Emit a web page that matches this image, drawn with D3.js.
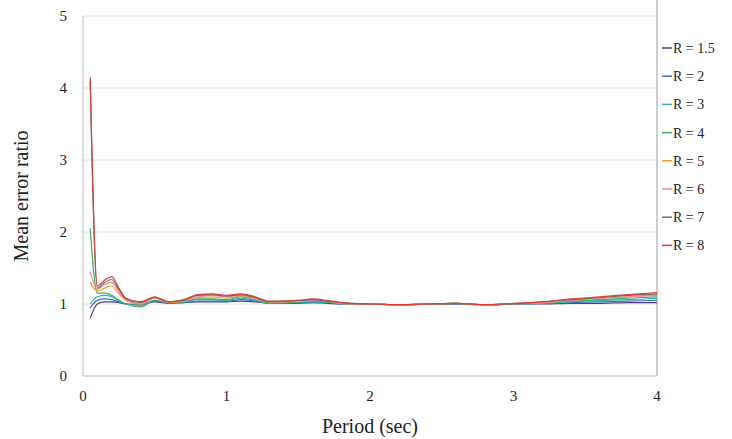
<!DOCTYPE html>
<html>
<head>
<meta charset="utf-8">
<script src="https://cdn.jsdelivr.net/npm/d3@7"></script>
<style>
  body { margin: 0; background: #fff; }
  text { font-family: "Liberation Serif", "Times New Roman", serif; fill: #222; }
</style>
</head>
<body>
<div id="chart"></div>
<script>
// period axis (sec)
const periods = [0.05, 0.1, 0.15, 0.2, 0.25, 0.3, 0.4, 0.5, 0.6, 0.7, 0.8, 0.9, 1.0, 1.1, 1.2, 1.3,
  1.4, 1.5, 1.6, 1.7, 1.8, 2.0, 2.2, 2.4, 2.6, 2.8, 3.0, 3.2, 3.4, 3.6, 3.8, 4.0];

const r15 = [0.80, 1.00, 1.03, 1.03, 1.02, 1.00, 0.99, 1.03, 1.01, 1.02, 1.03, 1.03, 1.03, 1.04, 1.03, 1.01,
  1.01, 1.01, 1.02, 1.01, 1.00, 1.00, 0.99, 1.00, 1.00, 0.99, 1.00, 1.00, 1.01, 1.01, 1.02, 1.02];
const r2 = [0.95, 1.05, 1.07, 1.06, 1.03, 1.00, 0.99, 1.04, 1.02, 1.02, 1.04, 1.04, 1.04, 1.06, 1.04, 1.01,
  1.01, 1.02, 1.02, 1.02, 1.00, 1.00, 0.99, 1.00, 1.00, 0.99, 1.00, 1.01, 1.02, 1.03, 1.04, 1.05];
const r3 = [1.00, 1.10, 1.12, 1.10, 1.05, 1.00, 0.98, 1.05, 1.02, 1.03, 1.06, 1.06, 1.05, 1.08, 1.05, 1.01,
  1.02, 1.02, 1.03, 1.03, 1.00, 1.00, 0.99, 1.00, 1.01, 0.99, 1.00, 1.01, 1.03, 1.05, 1.06, 1.08];
const r4 = [2.05, 1.15, 1.15, 1.12, 1.05, 1.00, 0.96, 1.05, 1.02, 1.03, 1.07, 1.07, 1.06, 1.10, 1.06, 1.02,
  1.02, 1.03, 1.04, 1.03, 1.01, 1.00, 0.99, 1.00, 1.01, 0.99, 1.00, 1.02, 1.04, 1.06, 1.08, 1.10];
const r5 = [1.30, 1.18, 1.22, 1.25, 1.14, 1.05, 1.00, 1.08, 1.02, 1.04, 1.09, 1.10, 1.08, 1.11, 1.07, 1.03,
  1.03, 1.04, 1.05, 1.04, 1.01, 1.00, 0.99, 1.00, 1.01, 0.99, 1.00, 1.02, 1.05, 1.08, 1.10, 1.13];
const r6 = [1.45, 1.20, 1.27, 1.30, 1.17, 1.06, 1.00, 1.08, 1.03, 1.04, 1.10, 1.12, 1.10, 1.12, 1.08, 1.03,
  1.03, 1.04, 1.05, 1.04, 1.01, 1.00, 0.99, 1.00, 1.01, 0.99, 1.00, 1.02, 1.05, 1.08, 1.10, 1.12];
const r7 = [4.10, 1.22, 1.30, 1.34, 1.20, 1.07, 1.02, 1.09, 1.03, 1.05, 1.12, 1.13, 1.11, 1.13, 1.09, 1.03,
  1.04, 1.05, 1.06, 1.04, 1.02, 1.00, 0.99, 1.00, 1.01, 0.99, 1.00, 1.03, 1.06, 1.09, 1.12, 1.14];
const r8 = [4.15, 1.25, 1.33, 1.38, 1.22, 1.08, 1.03, 1.10, 1.03, 1.06, 1.13, 1.14, 1.12, 1.14, 1.10, 1.04,
  1.04, 1.05, 1.07, 1.05, 1.02, 1.00, 0.99, 1.00, 1.01, 0.99, 1.01, 1.03, 1.07, 1.10, 1.13, 1.16];

const seriesNames = ["R = 1.5", "R = 2", "R = 3", "R = 4", "R = 5", "R = 6", "R = 7", "R = 8"];
const seriesValues = [r15, r2, r3, r4, r5, r6, r7, r8];
const colors = ["#4b3f8c", "#3a6fc4", "#2fb5b0", "#3cae5c", "#f0a12c", "#e88aa8", "#7a6a6a", "#d8403a"];

const xTicks = [0, 1, 2, 3, 4];
const yTicks = [0, 1, 2, 3, 4, 5];

const width = 732, height = 439;
const margin = { left: 83, right: 75, top: 16, bottom: 63 };

const svg = d3.select("#chart").append("svg")
  .attr("width", width)
  .attr("height", height);

const x = d3.scaleLinear().domain([0, 4]).range([margin.left, width - margin.right]);
const y = d3.scaleLinear().domain([0, 5]).range([height - margin.bottom, margin.top]);

// gridlines
svg.append("g")
  .selectAll("line")
  .data(yTicks.slice(1))
  .enter().append("line")
  .attr("x1", x(0)).attr("x2", x(4))
  .attr("y1", d => y(d)).attr("y2", d => y(d))
  .attr("stroke", "#e4e4e4")
  .attr("stroke-width", 1);

// plot frame: left, bottom, right
svg.append("line")
  .attr("x1", x(0)).attr("x2", x(0))
  .attr("y1", y(5)).attr("y2", y(0))
  .attr("stroke", "#bdbdbd");
svg.append("line")
  .attr("x1", x(0)).attr("x2", x(4))
  .attr("y1", y(0)).attr("y2", y(0))
  .attr("stroke", "#bdbdbd");
svg.append("line")
  .attr("x1", x(4)).attr("x2", x(4))
  .attr("y1", 0).attr("y2", y(0))
  .attr("stroke", "#9a9a9a");

// tick labels
svg.append("g")
  .selectAll("text")
  .data(yTicks)
  .enter().append("text")
  .attr("x", x(0) - 16)
  .attr("y", d => y(d))
  .attr("dy", "0.35em")
  .attr("text-anchor", "end")
  .attr("font-size", "15px")
  .text(d => d);

svg.append("g")
  .selectAll("text")
  .data(xTicks)
  .enter().append("text")
  .attr("x", d => x(d))
  .attr("y", y(0) + 25)
  .attr("text-anchor", "middle")
  .attr("font-size", "15px")
  .text(d => d);

// axis titles
svg.append("text")
  .attr("x", (x(0) + x(4)) / 2)
  .attr("y", 433)
  .attr("text-anchor", "middle")
  .attr("font-size", "20px")
  .text("Period (sec)");

svg.append("text")
  .attr("transform", `translate(28,${(y(0) + y(5)) / 2}) rotate(-90)`)
  .attr("text-anchor", "middle")
  .attr("font-size", "20px")
  .text("Mean error ratio");

// series lines
const line = d3.line()
  .x((d, i) => x(periods[i]))
  .y(d => y(d))
  .curve(d3.curveMonotoneX);

svg.append("g")
  .selectAll("path")
  .data(seriesValues)
  .enter().append("path")
  .attr("d", d => line(d))
  .attr("fill", "none")
  .attr("stroke", (d, i) => colors[i])
  .attr("stroke-width", 1.2);

// legend
const legend = svg.append("g")
  .selectAll("g")
  .data(seriesNames)
  .enter().append("g")
  .attr("transform", (d, i) => `translate(662,${48 + i * 28.2})`);

legend.append("line")
  .attr("x1", 0).attr("x2", 10)
  .attr("y1", 0).attr("y2", 0)
  .attr("stroke", (d, i) => colors[i])
  .attr("stroke-width", 1.5);

legend.append("text")
  .attr("x", 11)
  .attr("dy", "0.35em")
  .attr("font-size", "14px")
  .text(d => d);
</script>
</body>
</html>
